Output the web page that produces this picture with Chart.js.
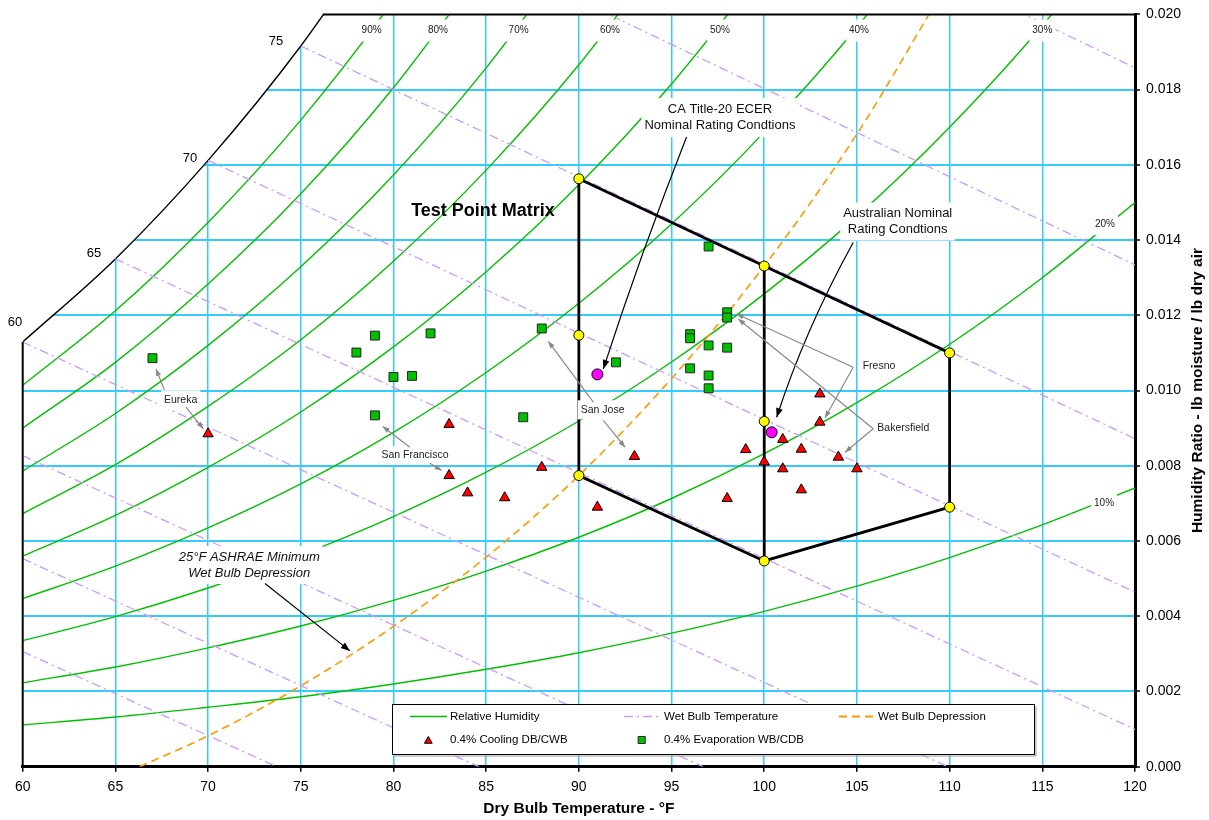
<!DOCTYPE html>
<html>
<head>
<meta charset="utf-8">
<title>Test Point Matrix - Psychrometric Chart</title>
<script src="https://cdn.jsdelivr.net/npm/chart.js@4.4.1/dist/chart.umd.min.js"></script>
<style>
  html, body { margin: 0; padding: 0; background: #fff; }
  #wrap { width: 1209px; height: 820px; position: relative; }
</style>
</head>
<body>
<div id="wrap"><canvas id="psychroChart"></canvas></div>
<script>
// ---------------------------------------------------------------------------
// Data (dry bulb °F, humidity ratio lb/lb)
// ---------------------------------------------------------------------------

const dbTemps = [60, 65, 70, 75, 80, 85, 90, 95, 100, 105, 110, 115, 120];

// relative humidity curves, one value per dbTemps entry (stop once past the top)
const rh10  = [0.00111, 0.00132, 0.00158, 0.00186, 0.00220, 0.00259, 0.00303, 0.00355, 0.00413, 0.00480, 0.00556, 0.00643, 0.00741];
const rh20  = [0.00223, 0.00265, 0.00316, 0.00374, 0.00442, 0.00520, 0.00610, 0.00713, 0.00832, 0.00968, 0.01123, 0.01300, 0.01500];
const rh30  = [0.00335, 0.00399, 0.00475, 0.00563, 0.00665, 0.00783, 0.00919, 0.01076, 0.01257, 0.01463, 0.01700, 0.01970, 0.02277];
const rh40  = [0.00447, 0.00533, 0.00635, 0.00752, 0.00889, 0.01048, 0.01232, 0.01443, 0.01687, 0.01966, 0.02287];
const rh50  = [0.00560, 0.00668, 0.00796, 0.00943, 0.01116, 0.01316, 0.01547, 0.01815, 0.02123];
const rh60  = [0.00673, 0.00803, 0.00958, 0.01135, 0.01344, 0.01586, 0.01866, 0.02191];
const rh70  = [0.00786, 0.00939, 0.01120, 0.01329, 0.01573, 0.01858, 0.02188];
const rh80  = [0.00900, 0.01075, 0.01283, 0.01523, 0.01805, 0.02133];
const rh90  = [0.01014, 0.01212, 0.01447, 0.01719, 0.02038, 0.02409];
const rh100 = [0.01129, 0.01350, 0.01612, 0.01916, 0.02272];

const rhLabelText = ['90%', '80%', '70%', '60%', '50%', '40%', '30%', '20%', '10%'];
const rhLabelDb   = [78.82, 82.40, 86.75, 91.68, 97.61, 105.11, 115.0, 118.38, 118.33];
const rhLabelW    = [0.01957, 0.01957, 0.01957, 0.01957, 0.01957, 0.01957, 0.01957, 0.014425, 0.006992];

// wet bulb lines (start / end points)
const wbTemps   = [45, 50, 55, 60, 65, 70, 75, 80, 85];
const wbStartDb = [60, 60, 60, 60, 65, 70, 75, 80, 85];
const wbStartW  = [0.00306, 0.00553, 0.00827, 0.01129, 0.01350, 0.01612, 0.01916, 0.02272, 0.02689];
const wbEndDb   = [73.7, 84.6, 96.7, 109.9, 120, 120, 120, 120, 120];
const wbEndW    = [0, 0, 0, 0, 0.00099, 0.00464, 0.00872, 0.01334, 0.01858];

const wbLabelText = ['60', '65', '70', '75'];
const wbLabelDb   = [59.58, 63.85, 69.03, 73.66];
const wbLabelW    = [0.011813, 0.013645, 0.016177, 0.019273];

// 25°F wet bulb depression
const depDb = [66.3, 70, 75, 80, 85, 90, 95, 100, 105, 110];
const depW  = [0, 0.00082, 0.00215, 0.00373, 0.00557, 0.00774, 0.01032, 0.01331, 0.01682, 0.02093];

// 0.4% cooling DB/CWB
const coolDb = [70, 83, 83, 84, 86, 88, 91, 93, 98, 99, 100, 101, 101, 102, 102, 103, 103, 104, 105];
const coolW  = [0.00885, 0.00910, 0.00774, 0.00728, 0.00715, 0.00796, 0.00690, 0.00825, 0.00713, 0.00843,
                0.00810, 0.00870, 0.00792, 0.00844, 0.00736, 0.00991, 0.00916, 0.00823, 0.00792];

// 0.4% evaporation WB/CDB
const evapDb = [67, 78, 79, 79, 80, 81, 82, 87, 88, 92, 96, 96, 96, 97, 97, 97, 97, 98, 98, 98];
const evapW  = [0.01086, 0.01101, 0.01146, 0.00934, 0.01036, 0.01039, 0.01152, 0.00929, 0.01165, 0.01075,
                0.01150, 0.01139, 0.01059, 0.01383, 0.01120, 0.01040, 0.01006, 0.01208, 0.01194, 0.01114];

// test point matrix
const testDb = [90, 100, 110, 90, 100, 110, 90, 100];
const testW  = [0.01563, 0.01331, 0.01100, 0.01147, 0.00918, 0.00690, 0.00774, 0.00547];
const matrixDb = [90, 100, 110, 110, 100, 90, 90];
const matrixW  = [0.01563, 0.01331, 0.01100, 0.00690, 0.00547, 0.00774, 0.01563];
const centerDb = [100, 100];
const centerW  = [0.01331, 0.00547];

// nominal rating conditions (CA Title-20, Australian)
const nominalDb = [91, 100.4];
const nominalW  = [0.01043, 0.00889];

// ---------------------------------------------------------------------------
// Annotations (text centre and arrows, in chart units)
// ---------------------------------------------------------------------------

const notes = [
  { lines: ['Test Point Matrix'], db: 84.83, w: 0.01476, font: 'bold 18px', box: false, color: '#000' },
  { lines: ['CA Title-20 ECER', 'Nominal Rating Condtions'], db: 97.61, w: 0.017255, font: '13px', lh: 16.5, box: true, color: '#111' },
  { lines: ['Australian Nominal', 'Rating Condtions'], db: 107.2, w: 0.014494, font: '13px', lh: 16, box: true, color: '#111' },
  { lines: ['25°F ASHRAE Minimum', 'Wet Bulb Depression'], db: 72.22, w: 0.005362, font: 'italic 13px', lh: 16, box: true, color: '#111' },
  { lines: ['Fresno'], db: 106.19, w: 0.010645, font: '10.5px', box: true, color: '#222' },
  { lines: ['Bakersfield'], db: 107.5, w: 0.009009, font: '10.5px', box: true, color: '#222' },
  { lines: ['San Jose'], db: 91.28, w: 0.009488, font: '10.5px', box: true, color: '#222' },
  { lines: ['San Francisco'], db: 81.16, w: 0.008274, font: '10.5px', box: true, color: '#222' },
  { lines: ['Eureka'], db: 68.52, w: 0.009753, font: '10.5px', box: true, color: '#222' }
];

const arrows = [
  { from: [95.81, 0.016743], via: [93.35, 0.01366], to: [91.32, 0.010576], color: '#000', width: 1.2, head: 9 },
  { from: [104.80, 0.013937], via: [102.2, 0.011614], to: [100.67, 0.009291], color: '#000', width: 1.2, head: 9 },
  { from: [73.07, 0.004869], to: [77.65, 0.003079], color: '#000', width: 1.2, head: 9 },
  { from: [104.80, 0.010619], to: [98.51, 0.012036], color: '#888', width: 1.2, head: 7 },
  { from: [104.80, 0.010619], to: [103.28, 0.009275], color: '#888', width: 1.2, head: 7 },
  { from: [105.88, 0.008983], to: [98.60, 0.011903], color: '#888', width: 1.2, head: 7 },
  { from: [105.88, 0.008983], to: [104.36, 0.008362], color: '#888', width: 1.2, head: 7 },
  { from: [90.78, 0.00969], to: [88.35, 0.011309], color: '#888', width: 1.2, head: 7 },
  { from: [91.32, 0.009204], to: [92.49, 0.008495], color: '#888', width: 1.2, head: 7 },
  { from: [80.89, 0.008495], to: [79.42, 0.009044], color: '#888', width: 1.2, head: 7 },
  { from: [81.97, 0.00807], to: [82.60, 0.007876], color: '#888', width: 1.2, head: 7 },
  { from: [67.64, 0.010019], to: [67.19, 0.010576], color: '#888', width: 1.2, head: 7 },
  { from: [68.81, 0.009557], to: [69.74, 0.008983], color: '#888', width: 1.2, head: 7 }
];

// ---------------------------------------------------------------------------
// Styles
// ---------------------------------------------------------------------------

const FONT   = 'Arial, "Liberation Sans", Helvetica, sans-serif';
const CYAN   = '#33CCFF';
const GREEN  = '#00C000';
const LILAC  = '#CC99FF';
const ORANGE = '#FF9900';
const WB_DASH  = [9, 4, 2, 4];
const DEP_DASH = [8, 5];

function pts(xs, ys) {
  return ys.map((y, i) => ({ x: xs[i], y }));
}

// ---------------------------------------------------------------------------
// Datasets
// ---------------------------------------------------------------------------

const datasets = [];

datasets.push({
  label: 'Saturation',
  data: pts(dbTemps, rh100),
  borderColor: '#000', borderWidth: 1.4,
  backgroundColor: '#fff', fill: 'end',
  pointRadius: 0, cubicInterpolationMode: 'monotone', order: 20
});

[rh10, rh20, rh30, rh40, rh50, rh60, rh70, rh80, rh90].forEach(function (vals, i) {
  datasets.push({
    label: i === 0 ? 'Relative Humidity' : '',
    data: pts(dbTemps, vals),
    borderColor: GREEN, borderWidth: 1.4,
    pointRadius: 0, fill: false, cubicInterpolationMode: 'monotone', order: 18
  });
});

wbTemps.forEach(function (t, i) {
  datasets.push({
    label: i === 0 ? 'Wet Bulb Temperature' : '',
    data: [{ x: wbStartDb[i], y: wbStartW[i] }, { x: wbEndDb[i], y: wbEndW[i] }],
    borderColor: LILAC, borderWidth: 1.3, borderDash: WB_DASH,
    pointRadius: 0, fill: false, tension: 0, order: 16
  });
});

datasets.push({
  label: 'Wet Bulb Depression',
  data: pts(depDb, depW),
  borderColor: ORANGE, borderWidth: 1.6, borderDash: DEP_DASH,
  pointRadius: 0, fill: false, cubicInterpolationMode: 'monotone', order: 14
});

datasets.push({
  label: 'Matrix',
  data: pts(matrixDb, matrixW),
  borderColor: '#000', borderWidth: 2.8,
  pointRadius: 0, fill: false, tension: 0, order: 12
});
datasets.push({
  label: 'Matrix centre',
  data: pts(centerDb, centerW),
  borderColor: '#000', borderWidth: 2.8,
  pointRadius: 0, fill: false, tension: 0, order: 12
});

datasets.push({
  label: '0.4% Cooling DB/CWB',
  data: pts(coolDb, coolW),
  showLine: false, pointStyle: 'triangle', pointRadius: 6,
  pointBackgroundColor: '#FF0000', pointBorderColor: '#000', pointBorderWidth: 1, order: 5
});
datasets.push({
  label: '0.4% Evaporation WB/CDB',
  data: pts(evapDb, evapW),
  showLine: false, pointStyle: 'rect', pointRadius: 6.3,
  pointBackgroundColor: '#00C000', pointBorderColor: '#222', pointBorderWidth: 1, order: 4
});
datasets.push({
  label: 'Test points',
  data: pts(testDb, testW),
  showLine: false, pointStyle: 'circle', pointRadius: 5,
  pointBackgroundColor: '#FFFF00', pointBorderColor: '#000', pointBorderWidth: 1, order: 2
});
datasets.push({
  label: 'Nominal',
  data: pts(nominalDb, nominalW),
  showLine: false, pointStyle: 'circle', pointRadius: 5.5,
  pointBackgroundColor: '#FF00FF', pointBorderColor: '#000', pointBorderWidth: 1, order: 1
});

// ---------------------------------------------------------------------------
// Overlay: frame, curve labels, annotations, legend, right axis title
// ---------------------------------------------------------------------------

function arrowHead(ctx, x, y, ux, uy, len, color) {
  const d = Math.hypot(ux, uy) || 1;
  ux /= d; uy /= d;
  const half = len * 0.38;
  ctx.fillStyle = color;
  ctx.beginPath();
  ctx.moveTo(x, y);
  ctx.lineTo(x - ux * len - uy * half, y - uy * len + ux * half);
  ctx.lineTo(x - ux * len + uy * half, y - uy * len - ux * half);
  ctx.closePath();
  ctx.fill();
}

function drawLegend(ctx) {
  const L = 392.5, T = 704.5, R = 1034.5, B = 754.5;
  const r1 = 716.5, r2 = 740;
  ctx.strokeStyle = '#999'; ctx.lineWidth = 1;
  ctx.beginPath(); ctx.moveTo(L + 2, B + 1.5); ctx.lineTo(R + 1.5, B + 1.5); ctx.lineTo(R + 1.5, T + 2); ctx.stroke();
  ctx.fillStyle = '#fff'; ctx.fillRect(L, T, R - L, B - T);
  ctx.strokeStyle = '#000'; ctx.strokeRect(L, T, R - L, B - T);

  const sample = function (x0, x1, y, color, width, dash) {
    ctx.save();
    ctx.strokeStyle = color; ctx.lineWidth = width; ctx.setLineDash(dash);
    ctx.beginPath(); ctx.moveTo(x0, y); ctx.lineTo(x1, y); ctx.stroke();
    ctx.restore();
  };
  sample(410, 447, r1, GREEN, 1.5, []);
  sample(624, 662, r1, LILAC, 1.5, WB_DASH);
  sample(839, 876, r1, ORANGE, 1.8, DEP_DASH);

  ctx.fillStyle = '#FF0000'; ctx.strokeStyle = '#000'; ctx.lineWidth = 1;
  Chart.helpers.drawPoint(ctx, { pointStyle: 'triangle', radius: 4.5, rotation: 0, borderWidth: 1 }, 428.3, r2 + 1);
  ctx.fillStyle = '#00C000'; ctx.strokeStyle = '#222';
  Chart.helpers.drawPoint(ctx, { pointStyle: 'rect', radius: 5, rotation: 0, borderWidth: 1 }, 641.7, r2);

  ctx.fillStyle = '#000';
  ctx.font = '11.5px ' + FONT;
  ctx.textAlign = 'left'; ctx.textBaseline = 'middle';
  ctx.fillText('Relative Humidity', 450, r1);
  ctx.fillText('Wet Bulb Temperature', 664, r1);
  ctx.fillText('Wet Bulb Depression', 878, r1);
  ctx.fillText('0.4% Cooling DB/CWB', 450, r2);
  ctx.fillText('0.4% Evaporation WB/CDB', 664, r2);
}

const overlay = {
  id: 'overlay',
  afterDatasetsDraw(chart) {
    const { ctx, chartArea: a, scales } = chart;
    const X = v => scales.x.getPixelForValue(v);
    const Y = v => scales.y.getPixelForValue(v);
    ctx.save();

    // where the saturation curve leaves through the top of the plot
    let topDb = dbTemps[rh100.length - 1];
    for (let i = 1; i < rh100.length; i++) {
      if (rh100[i] >= 0.02) {
        topDb = dbTemps[i - 1] + (0.02 - rh100[i - 1]) / (rh100[i] - rh100[i - 1]) * (dbTemps[i] - dbTemps[i - 1]);
        break;
      }
    }

    // tidy grid-line stubs sticking out of the blank region above saturation
    ctx.fillStyle = '#fff';
    ctx.fillRect(0, 0, a.left + 1, Y(rh100[0]) - 3);
    ctx.fillRect(0, 0, X(topDb) - 3, a.top + 1);

    // RH curve labels on white patches
    ctx.font = '10px ' + FONT;
    ctx.textAlign = 'center'; ctx.textBaseline = 'middle';
    rhLabelText.forEach(function (t, i) {
      const cx = X(rhLabelDb[i]), cy = Y(rhLabelW[i]);
      const w = ctx.measureText(t).width + 6;
      ctx.fillStyle = '#fff'; ctx.fillRect(cx - w / 2, cy - 11, w, 22);
      ctx.fillStyle = '#222'; ctx.fillText(t, cx, cy);
    });

    // wet bulb temperature labels along saturation
    ctx.font = '13px ' + FONT;
    ctx.fillStyle = '#000';
    wbLabelText.forEach(function (t, i) {
      ctx.fillText(t, X(wbLabelDb[i]), Y(wbLabelW[i]));
    });

    // chart frame: left edge below saturation, top edge right of saturation
    ctx.strokeStyle = '#000'; ctx.lineWidth = 2;
    ctx.beginPath(); ctx.moveTo(a.left, Y(rh100[0])); ctx.lineTo(a.left, a.bottom); ctx.stroke();
    ctx.beginPath(); ctx.moveTo(X(topDb), a.top); ctx.lineTo(a.right, a.top); ctx.stroke();

    // text notes
    notes.forEach(function (n) {
      ctx.font = n.font + ' ' + FONT;
      const lh = n.lh || 13;
      const cx = X(n.db), cy = Y(n.w);
      const w = Math.max.apply(null, n.lines.map(l => ctx.measureText(l).width));
      const h = n.lines.length * lh;
      if (n.box) {
        ctx.fillStyle = '#fff';
        ctx.fillRect(cx - w / 2 - 3, cy - h / 2 - 3, w + 6, h + 6);
      }
      ctx.fillStyle = n.color;
      n.lines.forEach(function (l, k) {
        ctx.fillText(l, cx, cy - h / 2 + lh * (k + 0.5));
      });
    });

    // arrows
    arrows.forEach(function (ar) {
      const x0 = X(ar.from[0]), y0 = Y(ar.from[1]);
      const x1 = X(ar.to[0]), y1 = Y(ar.to[1]);
      ctx.strokeStyle = ar.color; ctx.lineWidth = ar.width;
      ctx.beginPath(); ctx.moveTo(x0, y0);
      let dx = x1 - x0, dy = y1 - y0;
      if (ar.via) {
        const cx = X(ar.via[0]), cy = Y(ar.via[1]);
        ctx.quadraticCurveTo(cx, cy, x1, y1);
        dx = x1 - cx; dy = y1 - cy;
      } else {
        ctx.lineTo(x1, y1);
      }
      ctx.stroke();
      arrowHead(ctx, x1, y1, dx, dy, ar.head, ar.color);
    });

    drawLegend(ctx);

    // right axis title, reading bottom to top
    ctx.save();
    ctx.translate(1198, (a.top + a.bottom) / 2);
    ctx.rotate(-Math.PI / 2);
    ctx.font = 'bold 15.5px ' + FONT;
    ctx.fillStyle = '#000';
    ctx.textAlign = 'center'; ctx.textBaseline = 'middle';
    ctx.fillText('Humidity Ratio - lb moisture / lb dry air', 0, 0);
    ctx.restore();

    ctx.restore();
  }
};

// ---------------------------------------------------------------------------
// Chart
// ---------------------------------------------------------------------------

new Chart(document.getElementById('psychroChart'), {
  type: 'line',
  data: { datasets },
  options: {
    responsive: true,
    maintainAspectRatio: false,
    animation: false,
    events: [],
    layout: { padding: { left: 22.7, top: 13.3, right: 0, bottom: 0 } },
    plugins: { legend: { display: false }, tooltip: { enabled: false } },
    scales: {
      x: {
        type: 'linear', min: 60, max: 120,
        ticks: { stepSize: 5, autoSkip: false, maxRotation: 0, color: '#000', padding: 7,
                 font: { family: FONT, size: 14 } },
        grid: { color: c => (c.index === 0 ? 'rgba(0,0,0,0)' : CYAN), lineWidth: 1.5,
                tickColor: '#000', tickLength: 5, tickWidth: 1.5 },
        border: { color: '#000', width: 3 },
        title: { display: true, text: 'Dry Bulb Temperature - °F', color: '#000',
                 font: { family: FONT, size: 15.5, weight: 'bold' }, padding: { top: 0, bottom: 2 } },
        afterFit: function (s) { s.height = 53.3; }
      },
      y: {
        type: 'linear', position: 'right', min: 0, max: 0.02,
        ticks: { stepSize: 0.002, autoSkip: false, color: '#000', padding: 6,
                 font: { family: FONT, size: 14 },
                 callback: v => v.toFixed(3) },
        grid: { color: c => (c.index === 10 ? 'rgba(0,0,0,0)' : CYAN), lineWidth: 2,
                tickColor: '#000', tickLength: 5, tickWidth: 1.5 },
        border: { color: '#000', width: 3 },
        afterFit: function (s) { s.width = 74; }
      }
    }
  },
  plugins: [overlay]
});
</script>
</body>
</html>
